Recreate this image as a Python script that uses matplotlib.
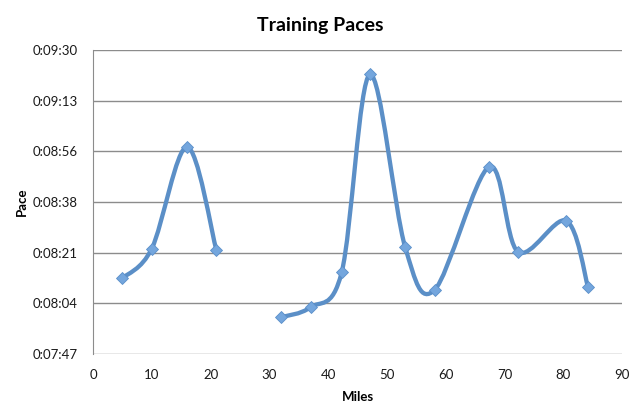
import matplotlib
matplotlib.use('Agg')
import matplotlib.pyplot as plt
from matplotlib.path import Path
from matplotlib.patches import PathPatch
from matplotlib.ticker import FuncFormatter, MultipleLocator

# miles and pace (seconds per mile), two runs separated by a gap
miles_a = [5, 10, 16, 21]
pace_a = [492.4, 502.5, 537.2, 501.9]
miles_b = [32, 37, 42.3, 47.1, 53.1, 58.1, 67.4, 72.3, 80.5, 84.2]
pace_b = [479.1, 482.5, 494.4, 561.9, 503.0, 488.4, 530.4, 501.4, 512.0, 489.5]

blue = '#5b8fc7'
marker_blue = '#74a6dd'


def smooth_path(xs, ys):
    # bezier segments like spreadsheet smoothed lines
    pts = list(zip(xs, ys))
    n = len(pts)
    verts = [pts[0]]
    codes = [Path.MOVETO]
    for i in range(n - 1):
        p0 = pts[max(i - 1, 0)]
        p1 = pts[i]
        p2 = pts[i + 1]
        p3 = pts[min(i + 2, n - 1)]
        c1 = (p1[0] + (p2[0] - p0[0]) / 6, p1[1] + (p2[1] - p0[1]) / 6)
        c2 = (p2[0] - (p3[0] - p1[0]) / 6, p2[1] - (p3[1] - p1[1]) / 6)
        verts += [c1, c2, p2]
        codes += [Path.CURVE4] * 3
    return Path(verts, codes)


def fmt_pace(v, pos):
    s = int(round(v))
    return '0:%02d:%02d' % (s // 60, s % 60)


fig = plt.figure(figsize=(6.4, 4.12), dpi=100)
ax = fig.add_axes([0.1453, 0.1408, 0.8267, 0.7378])

for xs, ys in [(miles_a, pace_a), (miles_b, pace_b)]:
    ax.add_patch(PathPatch(smooth_path(xs, ys), facecolor='none',
                           edgecolor=blue, lw=3.1, capstyle='round', zorder=2))
    ax.plot(xs, ys, linestyle='none', marker='D', markersize=6.5,
            markerfacecolor=marker_blue, markeredgecolor='#5a8fca',
            markeredgewidth=0.6, zorder=3)

ax.set_xlim(0, 90)
ax.set_ylim(466.56, 570.24)
ax.xaxis.set_major_locator(MultipleLocator(10))
ax.set_yticks([466.56 + 17.28 * i for i in range(7)])
ax.yaxis.set_major_formatter(FuncFormatter(fmt_pace))

ax.grid(axis='y', color='#8c8c8c', linewidth=1.0)
ax.set_axisbelow(True)
for side in ['top', 'right', 'bottom']:
    ax.spines[side].set_visible(False)
ax.spines['left'].set_color('#8c8c8c')
ax.tick_params(length=0, labelsize=9.5, colors='#1a1a1a')
ax.tick_params(axis='y', pad=11)
ax.tick_params(axis='x', pad=11)

fig.text(0.5, 0.925, 'Training Paces', ha='center', fontsize=14,
         fontweight='bold', family='Lato')
ax.set_xlabel('Miles', fontsize=9.5, fontweight='bold', family='Lato', labelpad=7)
ax.set_ylabel('Pace', fontsize=9.5, fontweight='bold', family='Lato')
ax.yaxis.set_label_coords(-0.123, 0.5)
for lbl in ax.get_xticklabels() + ax.get_yticklabels():
    lbl.set_family('Lato')

fig.savefig('out.png', dpi=100)
